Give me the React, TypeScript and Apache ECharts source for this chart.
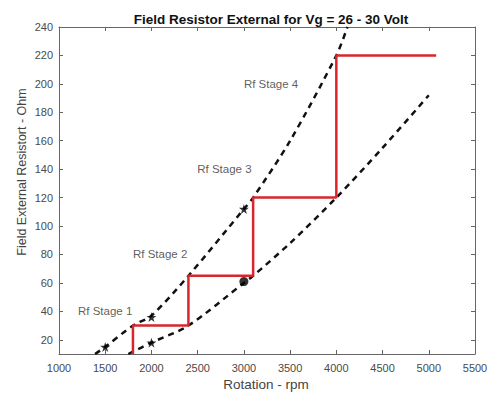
import React, { useEffect, useRef } from "react";
import * as echarts from "echarts";

const xTicks = [1000, 1500, 2000, 2500, 3000, 3500, 4000, 4500, 5000, 5500];
const yTicks = [20, 40, 60, 80, 100, 120, 140, 160, 180, 200, 220, 240];

// Red staircase (rpm, Ohm)
const stepLine: [number, number][] = [
  [1800, 10], [1800, 30], [2400, 30], [2400, 65], [3100, 65],
  [3100, 120], [4000, 120], [4000, 220], [5080, 220],
];

// Upper dashed curve
const upperCurve: [number, number][] = [
  [1390, 10], [1500, 15], [1800, 30], [2000, 37], [2400, 65],
  [3000, 112], [3100, 120], [3500, 160], [4000, 220], [4120, 240],
];

// Lower dashed curve
const lowerCurve: [number, number][] = [
  [1750, 10], [2000, 18], [2400, 30], [3000, 60], [3100, 65],
  [3500, 88], [4000, 120], [4500, 155], [5000, 192],
];

const starPoints: [number, number][] = [
  [1500, 15], [2000, 36], [3000, 112], [2000, 18],
];
const dotPoints: [number, number][] = [[3000, 61]];

const stageLabels = ["Rf Stage 1", "Rf Stage 2", "Rf Stage 3", "Rf Stage 4"];
const stageAnchors: [number, number][] = [
  [1205, 40], [1800, 80], [2495, 140], [3000, 200],
];

const STAR =
  "path://M50,0 L61,35 L98,35 L68,57 L79,91 L50,70 L21,91 L32,57 L2,35 L39,35 Z";

export default function App() {
  const ref = useRef<HTMLDivElement>(null);
  useEffect(() => {
    if (!ref.current) return;
    const chart = echarts.init(ref.current, undefined, { renderer: "svg" });
    const axisColor = "#666";
    const labelColor = "#4a4a4a";
    const font = "Liberation Sans";
    const baseX = {
      type: "value" as const,
      min: 1000,
      max: 5500,
      interval: 500,
      axisLine: { show: true, onZero: false, lineStyle: { color: axisColor, width: 1 } },
      axisTick: { show: true, inside: true, length: 4, lineStyle: { color: axisColor } },
      splitLine: { show: false },
    };
    const baseY = {
      type: "value" as const,
      min: 10,
      max: 240,
      axisLine: { show: true, onZero: false, lineStyle: { color: axisColor, width: 1 } },
      axisTick: { show: true, inside: true, length: 4, customValues: yTicks, lineStyle: { color: axisColor } },
      splitLine: { show: false },
    };
    chart.setOption({
      animation: false,
      backgroundColor: "#fff",
      title: {
        text: "Field Resistor External for Vg = 26 - 30 Volt",
        left: 266,
        top: 7,
        textAlign: "center",
        textStyle: { fontFamily: font, fontSize: 13.5, fontWeight: "bold", color: "#111" },
      },
      grid: { left: 59, right: 17, top: 27, bottom: 40, containLabel: false },
      xAxis: [
        {
          ...baseX,
          position: "bottom",
          axisLabel: {
            show: true,
            formatter: (v: number) => String(v),
            color: labelColor,
            fontFamily: font,
            fontSize: 11,
            margin: 8,
          },
        },
        { ...baseX, position: "top", axisLabel: { show: false } },
      ],
      yAxis: [
        {
          ...baseY,
          position: "left",
          axisLabel: {
            show: true,
            customValues: yTicks,
            formatter: (v: number) => String(v),
            color: labelColor,
            fontFamily: font,
            fontSize: 11,
            margin: 6,
          },
        },
        { ...baseY, position: "right", axisLabel: { show: false } },
      ],
      graphic: [
        {
          type: "text",
          x: 266,
          y: 384,
          style: {
            text: "Rotation - rpm",
            fontFamily: font,
            fontSize: 13.5,
            fill: "#444",
            align: "center",
            verticalAlign: "middle",
          },
        },
        {
          type: "text",
          x: 22,
          y: 172,
          rotation: Math.PI / 2,
          style: {
            text: "Field External Resistort - Ohm",
            fontFamily: font,
            fontSize: 12.5,
            fill: "#444",
            align: "center",
            verticalAlign: "middle",
          },
        },
      ],
      series: [
        {
          type: "line",
          data: upperCurve,
          smooth: 0.3,
          showSymbol: false,
          lineStyle: { color: "#111", width: 2.5, type: [6, 5] },
          z: 3,
        },
        {
          type: "line",
          data: lowerCurve,
          smooth: 0.3,
          showSymbol: false,
          lineStyle: { color: "#111", width: 2.5, type: [6, 5] },
          z: 3,
        },
        {
          type: "line",
          data: stepLine,
          showSymbol: false,
          lineStyle: { color: "#d8262c", width: 2.5 },
          z: 4,
        },
        {
          type: "scatter",
          data: starPoints,
          symbol: STAR,
          symbolSize: 10,
          itemStyle: { color: "#000" },
          z: 5,
        },
        {
          type: "scatter",
          data: dotPoints,
          symbol: "circle",
          symbolSize: 9,
          itemStyle: { color: "#000" },
          z: 5,
        },
        {
          type: "scatter",
          data: stageAnchors.map((p, i) => ({ value: p, name: stageLabels[i] })),
          symbolSize: 0,
          label: {
            show: true,
            position: "right",
            distance: 0,
            formatter: "{b}",
            fontFamily: font,
            fontSize: 11.5,
            color: "#333",
          },
          z: 6,
        },
      ],
    });
    return () => chart.dispose();
  }, []);
  return (
    <div
      ref={ref}
      style={{ position: "fixed", left: 0, top: 0, width: 492, height: 394 }}
    />
  );
}
